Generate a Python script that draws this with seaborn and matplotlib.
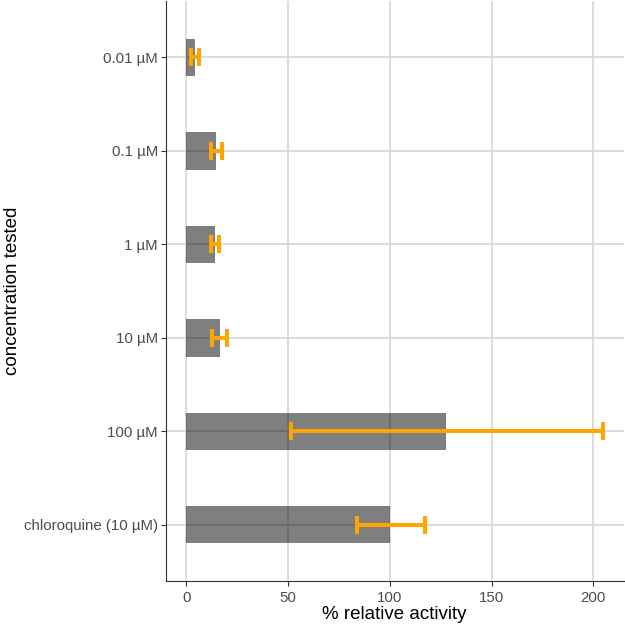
import numpy as np
import pandas as pd
import matplotlib
matplotlib.use("Agg")
import matplotlib.pyplot as plt
import seaborn as sns

# values
concentrations = ["0.01 µM", "0.1 µM", "1 µM", "10 µM", "100 µM", "chloroquine (10 µM)"]
activity = [4.1, 14.7, 14.0, 16.3, 127.7, 100.2]
err_low = [2.1, 12.3, 12.3, 12.4, 51.2, 83.6]
err_high = [6.2, 17.3, 16.2, 20.1, 204.6, 117.4]

df = pd.DataFrame({"concentration": concentrations, "activity": activity,
                   "low": err_low, "high": err_high})

sns.set_style("white")
plt.rcParams['font.family'] = ['Liberation Sans', 'DejaVu Sans']

fig = plt.figure(figsize=(6.25, 6.29), dpi=100)
ax = fig.add_axes([0.265, 0.0765, 0.7326, 0.9215])

sns.barplot(data=df, x="activity", y="concentration", order=concentrations,
            color="black", alpha=0.5, width=0.4, saturation=1,
            errorbar=None, ax=ax, zorder=2)
for p in ax.patches:
    p.set_edgecolor("none")

# barplot switches the grid off, so put it back
ax.grid(True, which="major", color="#D9D9D9", linewidth=1.3, zorder=0)
ax.set_axisbelow(True)

ypos = np.arange(len(concentrations))
mid = (df["low"] + df["high"]) / 2
half = (df["high"] - df["low"]) / 2
ax.errorbar(mid, ypos, xerr=half, fmt="none", ecolor="#FFA500",
            elinewidth=2.9, capsize=6.8, capthick=2.9, zorder=3)

ax.set_xlim(-10.2, 214.8)
ax.set_ylim(5.6, -0.6)
ax.set_xticks([0, 50, 100, 150, 200])

for side in ["top", "right"]:
    ax.spines[side].set_visible(False)
for side in ["left", "bottom"]:
    ax.spines[side].set_color("#333333")
    ax.spines[side].set_linewidth(0.8)

ax.tick_params(axis="both", which="major", length=3.5, width=0.8, color="#333333",
               labelsize=10.8, labelcolor="#4D4D4D", pad=2, left=True, bottom=True)
ax.tick_params(axis="x", pad=4)

ax.set_xlabel("% relative activity", fontsize=13.5, color="black", labelpad=0.5)
ax.set_ylabel("concentration tested", fontsize=13.5, color="black", labelpad=2)

fig.savefig("out.png", dpi=100)
